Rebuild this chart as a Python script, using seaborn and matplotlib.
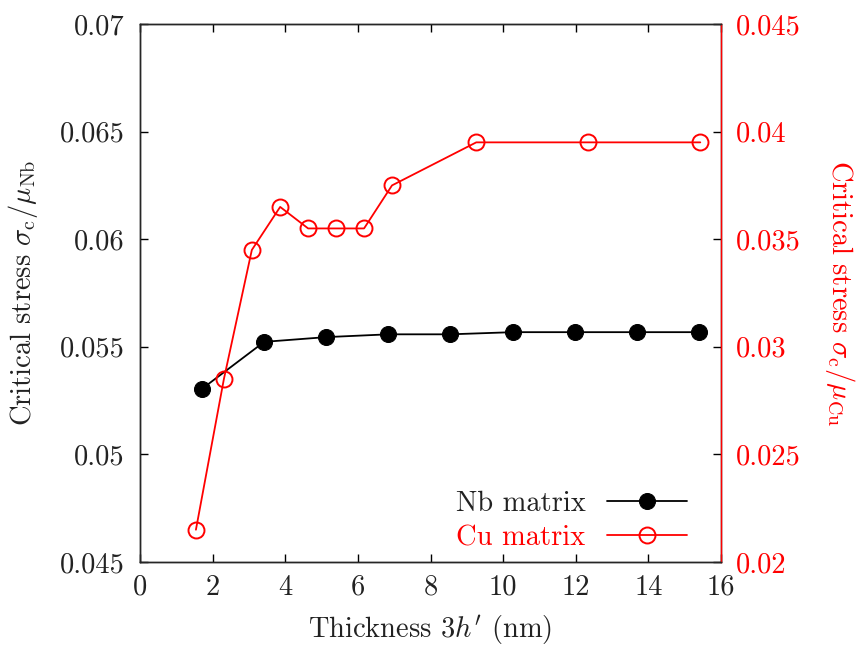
import matplotlib
matplotlib.use("Agg")
import matplotlib.pyplot as plt
import seaborn as sns
import pandas as pd
from matplotlib.ticker import FuncFormatter

# Data
nb_thickness = [1.71, 3.42, 5.13, 6.84, 8.55, 10.27, 11.98, 13.69, 15.40]
nb_stress = [0.05305, 0.05523, 0.05545, 0.05558, 0.05558, 0.05568, 0.05568, 0.05568, 0.05568]

cu_thickness = [1.54, 2.31, 3.08, 3.86, 4.63, 5.40, 6.17, 6.94, 9.26, 12.34, 15.43]
cu_stress = [0.0215, 0.0285, 0.0345, 0.0365, 0.0355, 0.0355, 0.0355, 0.0375, 0.0395, 0.0395, 0.0395]

x_ticks = [0, 2, 4, 6, 8, 10, 12, 14, 16]
left_ticks = [0.045, 0.05, 0.055, 0.06, 0.065, 0.07]
right_ticks = [0.02, 0.025, 0.03, 0.035, 0.04, 0.045]

sns.set_style("ticks")
plt.rcParams['font.family'] = ['serif']
plt.rcParams['font.serif'] = ['cmr10', 'DejaVu Serif']
plt.rcParams['mathtext.fontset'] = 'cm'
plt.rcParams['axes.formatter.use_mathtext'] = True
plt.rcParams['axes.unicode_minus'] = False

FS = 20.5

fig = plt.figure(figsize=(8.58, 6.46), dpi=100)
ax = fig.add_axes([140/858, 84/646, 581/858, 538/646])
ax2 = ax.twinx()

nb_df = pd.DataFrame({"x": nb_thickness, "y": nb_stress})
cu_df = pd.DataFrame({"x": cu_thickness, "y": cu_stress})

sns.lineplot(data=nb_df, x="x", y="y", ax=ax, color="black", marker="o",
             markersize=11.5, markerfacecolor="black", markeredgecolor="black",
             linewidth=1.3, label="Nb matrix", legend=False)
sns.lineplot(data=cu_df, x="x", y="y", ax=ax2, color="red", marker="o",
             markersize=11.5, markerfacecolor="none", markeredgecolor="red",
             markeredgewidth=1.4, linewidth=1.3, label="Cu matrix", legend=False)

ax.set_xlim(0, 16)
ax.set_ylim(0.045, 0.07)
ax2.set_ylim(0.02, 0.045)
ax.set_xticks(x_ticks)
ax.set_yticks(left_ticks)
ax2.set_yticks(right_ticks)

fmt = FuncFormatter(lambda v, p: "%g" % round(v, 6))
ax.yaxis.set_major_formatter(fmt)
ax2.yaxis.set_major_formatter(fmt)
ax.xaxis.set_major_formatter(FuncFormatter(lambda v, p: "%d" % v))

ax.tick_params(axis='both', direction='in', length=6, width=1, labelsize=FS,
               colors='black', top=True, right=False, pad=11)
ax.tick_params(axis='x', pad=9)
ax2.tick_params(axis='y', direction='in', length=6, width=1, labelsize=FS,
                colors='black', labelcolor='red', pad=11)
for lab in ax.get_xticklabels() + ax.get_yticklabels():
    lab.set_color('#222222')

for sp in ax.spines.values():
    sp.set_linewidth(1.0)
    sp.set_color('black')
for sp in ax2.spines.values():
    sp.set_linewidth(1.0)
ax2.spines['right'].set_color('red')

ax.set_xlabel(r"Thickness $3h'$ (nm)", fontsize=FS, color='#222222', labelpad=9)
ax.set_ylabel(r"Critical stress $\sigma_\mathrm{c}/\mu_\mathrm{Nb}$", fontsize=FS,
              color='#222222', labelpad=14)
ax2.set_ylabel(r"Critical stress $\sigma_\mathrm{c}/\mu_\mathrm{Cu}$", fontsize=FS,
               color='red', rotation=270, labelpad=40)

h1, l1 = ax.get_legend_handles_labels()
h2, l2 = ax2.get_legend_handles_labels()
leg = ax2.legend(h1 + h2, l1 + l2, loc='lower right', bbox_to_anchor=(0.985, -0.028),
                 frameon=False, markerfirst=False, fontsize=FS, handlelength=2.8,
                 handletextpad=0.75, labelspacing=0.3)
leg.get_texts()[0].set_color('#222222')
leg.get_texts()[1].set_color('red')

fig.savefig("out.png", dpi=100)
